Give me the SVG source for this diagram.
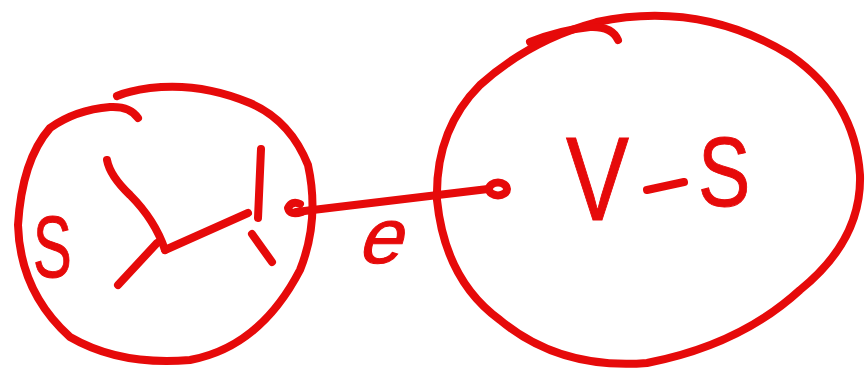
<svg xmlns="http://www.w3.org/2000/svg" width="867" height="370" viewBox="0 0 867 370">
<style>
.ink{fill:none;stroke:#e60a0a;stroke-width:8;stroke-linecap:round;stroke-linejoin:round}
.lbl{fill:#e60a0a;stroke:#e60a0a;stroke-width:1;font-family:"Liberation Sans","DejaVu Sans",sans-serif}
</style>
<rect width="867" height="370" fill="#ffffff"/>
<g id="node-s">
<path class="ink" d="M138 118 Q130 106 110 107 Q75 110 50 128 Q22 160 18 225 Q20 292 70 337 Q120 366 190 360 Q260 347 300 270 Q320 220 308 165 Q290 120 250 103 Q200 82 150 88 Q128 91 117 96"/>
<text class="lbl" transform="translate(33 277) scale(0.66 1)" font-size="88">S</text>
<path class="ink" d="M107 160 Q110 176 130 195 Q155 220 165 250"/>
<path class="ink" d="M157 243 L118 285"/>
<path class="ink" d="M165 250 L248 213"/>
<path class="ink" d="M261 149 L258 218"/>
<path class="ink" d="M252 234 L272 262"/>
</g>
<g id="node-vs">
<path class="ink" d="M597 22 Q700 0 790 55 Q855 100 860 175 Q862 240 800 290 Q740 345 647 363 Q560 370 500 320 Q445 280 437 200 Q435 130 480 85 Q530 40 597 22"/>
<path class="ink" d="M530 42 Q560 30 590 27 Q612 26 618 40"/>
<text class="lbl" transform="translate(566 220) scale(0.8 1)" font-size="118">V</text>
<path class="ink" d="M647 190 L684 182"/>
<text class="lbl" transform="translate(698 206) scale(0.8 1)" font-size="98">S</text>
</g>
<g id="connectors">
<path class="ink" d="M302 212 Q290 216 288 208 Q292 200 300 204"/>
<path class="ink" d="M296 212 L488 189"/>
<ellipse class="ink" cx="498" cy="189" rx="9" ry="6.5"/>
<text class="lbl" transform="translate(356 263) skewX(-18)" font-size="78" stroke-width="2.5">e</text>
</g>
</svg>
